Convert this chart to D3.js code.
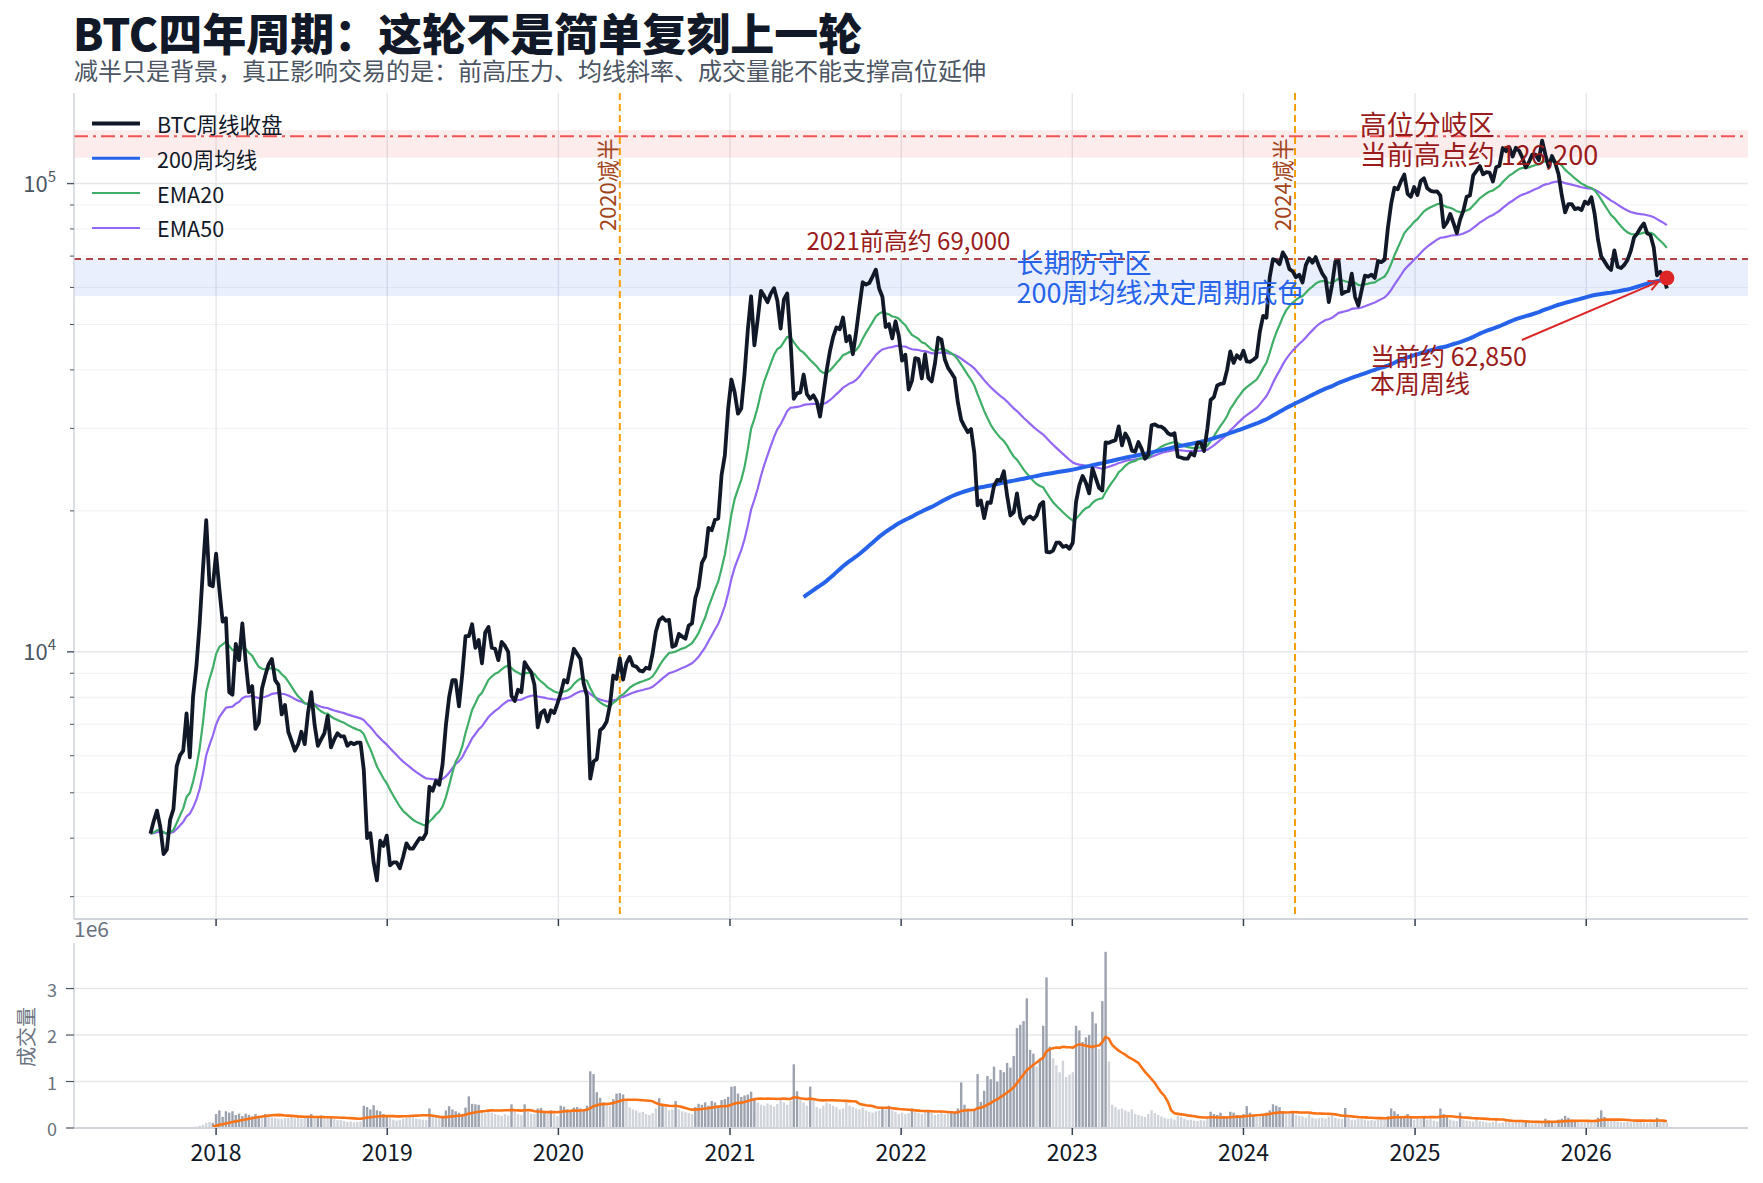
<!DOCTYPE html>
<html>
<head>
<meta charset="utf-8">
<script src="https://cdn.jsdelivr.net/npm/d3@7"></script>
<style>
body { margin: 0; background: #fff; }
text { font-family: "Noto Sans CJK SC", "Noto Sans", sans-serif; }
</style>
</head>
<body>
<svg width="1763" height="1183"></svg>
<script>
// weekly closes (USDT), one array per year, week labels start Monday 2017-08-14
let close2017 = [4090, 4350, 4580, 4230, 3700, 3780, 4380, 4610, 5700, 6010, 6150, 7390, 5950, 8040, 9300, 11500, 15000, 19100, 13900, 13800];
let close2018 = [16200, 13600, 11600, 11800, 8200, 8100, 10400, 9600, 11500, 9550, 8200, 8450, 6850, 7050, 8350, 8900, 9400, 9650, 8700, 8500, 7350, 7700, 6750, 6450, 6150, 6350, 6750, 6350, 7400, 8200, 7000, 6300, 6500, 6700, 7300, 6250, 6500, 6700, 6600, 6600, 6300, 6400, 6350, 6400, 6400, 5600, 4000, 4100, 3550, 3250, 3950, 3850, 4050];
let close2019 = [3500, 3550, 3550, 3450, 3650, 3900, 3800, 3800, 3900, 4000, 3980, 4100, 5150, 5050, 5300, 5200, 5750, 6950, 8000, 8700, 8700, 7650, 8950, 10800, 10800, 11450, 10200, 10600, 9450, 11000, 11300, 10200, 10150, 9600, 10500, 10300, 10000, 8050, 7850, 8300, 8200, 9500, 9250, 9050, 8500, 6900, 7400, 7500, 7100, 7500, 7400, 7750];
let close2020 = [8150, 8700, 8600, 9350, 10150, 9900, 9650, 8550, 8050, 5360, 5830, 5900, 6800, 6900, 7100, 7700, 8900, 8750, 9680, 8720, 9450, 9750, 9350, 9300, 9120, 9080, 9250, 9200, 9930, 11050, 11680, 11850, 11650, 11700, 10250, 10330, 10920, 10780, 10670, 11380, 11500, 13030, 13740, 15480, 15970, 18400, 18180, 19150, 19270, 23850, 26280, 33000];
let close2021 = [38150, 35800, 32250, 33100, 39250, 48700, 57450, 45150, 51200, 59000, 57500, 55800, 58200, 59800, 56200, 49000, 56600, 58250, 46400, 34700, 35650, 35800, 39100, 35500, 34700, 35300, 34250, 31800, 35400, 39850, 43800, 47050, 49300, 48850, 51750, 46050, 47250, 43200, 48200, 54650, 61550, 60850, 61300, 63300, 65500, 59700, 57300, 49400, 50100, 46700, 50800, 47300];
let close2022 = [41850, 43100, 36300, 37900, 42400, 42200, 38350, 43200, 38400, 37800, 41250, 46850, 46400, 42150, 40400, 39450, 38450, 34050, 31300, 30300, 29450, 29900, 26600, 20550, 21050, 19300, 20850, 20800, 22600, 23300, 23200, 24300, 21550, 19550, 19850, 21800, 19400, 18800, 19300, 19450, 19200, 19550, 20600, 20900, 16350, 16300, 16450, 17100, 17100, 16750, 16850, 16600];
let close2023 = [17100, 20900, 22700, 23750, 22950, 21800, 24650, 23500, 22400, 22100, 28000, 27950, 28150, 28300, 30300, 27600, 29250, 28450, 26900, 26750, 28050, 27100, 25850, 26350, 30450, 30600, 30300, 30250, 29900, 29300, 29050, 29300, 26100, 26000, 25850, 25850, 26550, 26250, 27950, 27950, 26850, 29950, 34500, 35000, 37050, 37350, 37450, 39950, 43800, 41400, 43000, 42250];
let close2024 = [43950, 41700, 41600, 42050, 42600, 48300, 52150, 51700, 63100, 68950, 68400, 67250, 71300, 69350, 65650, 64950, 63100, 63900, 61500, 66950, 69300, 67750, 69650, 66650, 64250, 62750, 55850, 60800, 68150, 68250, 58100, 58700, 58950, 64200, 57300, 54850, 59150, 63600, 63300, 63900, 62850, 68350, 67950, 68750, 80350, 90550, 98050, 97200, 101200, 104550, 95100, 93700, 98300];
let close2025 = [94550, 101300, 102600, 97700, 96500, 96150, 96250, 94250, 80750, 82600, 86100, 82350, 78400, 83750, 87500, 93750, 94300, 104100, 106450, 109000, 104650, 105750, 105550, 101000, 108400, 109200, 119100, 117300, 119450, 114200, 119300, 117500, 113500, 108250, 111150, 115300, 115250, 112200, 123500, 115100, 108600, 114500, 110550, 104700, 94200, 86800, 90400, 90400, 88200, 88600, 87800, 91500];
let close2026 = [90500, 93500, 86000, 76000, 69800, 68200, 66400, 65400, 72000, 66400, 66000, 67000, 68700, 71800, 76700, 78300, 80500, 82200, 78300, 77600, 73000, 63700, 64800, 63200, 59700];

// weekly volume, millions of BTC
let vol2017 = [0.004, 0.006, 0.010, 0.012, 0.018, 0.010, 0.008, 0.010, 0.014, 0.012, 0.010, 0.016, 0.022, 0.020, 0.030, 0.050, 0.070, 0.110, 0.130, 0.110];
let vol2018 = [0.30, 0.38, 0.24, 0.36, 0.33, 0.36, 0.28, 0.31, 0.26, 0.31, 0.28, 0.25, 0.30, 0.26, 0.22, 0.30, 0.25, 0.23, 0.22, 0.20, 0.19, 0.21, 0.22, 0.25, 0.21, 0.24, 0.20, 0.23, 0.26, 0.30, 0.22, 0.24, 0.27, 0.20, 0.21, 0.26, 0.19, 0.17, 0.17, 0.15, 0.13, 0.14, 0.12, 0.13, 0.14, 0.48, 0.45, 0.40, 0.49, 0.38, 0.36, 0.30, 0.26];
let vol2019 = [0.22, 0.18, 0.16, 0.17, 0.20, 0.22, 0.25, 0.23, 0.20, 0.19, 0.18, 0.17, 0.42, 0.26, 0.24, 0.22, 0.25, 0.38, 0.47, 0.40, 0.36, 0.33, 0.30, 0.44, 0.68, 0.52, 0.51, 0.50, 0.34, 0.32, 0.36, 0.33, 0.30, 0.28, 0.26, 0.30, 0.27, 0.51, 0.36, 0.30, 0.28, 0.51, 0.35, 0.31, 0.30, 0.42, 0.43, 0.35, 0.31, 0.38, 0.30, 0.26];
let vol2020 = [0.48, 0.46, 0.40, 0.38, 0.44, 0.45, 0.42, 0.40, 0.48, 1.22, 1.16, 0.77, 0.65, 0.55, 0.50, 0.48, 0.62, 0.74, 0.75, 0.72, 0.58, 0.44, 0.40, 0.38, 0.33, 0.35, 0.30, 0.28, 0.32, 0.42, 0.64, 0.50, 0.45, 0.38, 0.40, 0.58, 0.40, 0.36, 0.34, 0.32, 0.30, 0.45, 0.52, 0.50, 0.55, 0.48, 0.58, 0.55, 0.48, 0.60, 0.62, 0.67];
let vol2021 = [0.89, 0.90, 0.74, 0.67, 0.70, 0.72, 0.78, 0.65, 0.55, 0.50, 0.48, 0.53, 0.50, 0.46, 0.52, 0.60, 0.55, 0.50, 0.58, 1.37, 0.79, 0.62, 0.55, 0.48, 0.89, 0.60, 0.45, 0.42, 0.48, 0.55, 0.52, 0.48, 0.45, 0.40, 0.42, 0.55, 0.48, 0.45, 0.42, 0.40, 0.44, 0.38, 0.35, 0.33, 0.36, 0.38, 0.45, 0.40, 0.48, 0.38, 0.35, 0.30];
let vol2022 = [0.33, 0.30, 0.32, 0.42, 0.34, 0.33, 0.30, 0.36, 0.38, 0.33, 0.28, 0.30, 0.34, 0.30, 0.32, 0.35, 0.35, 0.42, 0.98, 0.50, 0.42, 0.38, 0.40, 1.16, 0.56, 0.80, 1.12, 1.05, 1.32, 1.00, 1.25, 1.20, 1.40, 1.30, 1.55, 2.15, 2.22, 2.30, 2.79, 1.68, 1.60, 1.32, 1.50, 2.20, 3.24, 1.75, 1.50, 1.35, 1.20, 1.45, 1.10, 1.15];
let vol2023 = [1.20, 2.20, 2.10, 1.85, 1.95, 2.00, 2.50, 2.25, 1.70, 2.73, 3.79, 1.43, 0.50, 0.45, 0.40, 0.42, 0.38, 0.35, 0.40, 0.30, 0.28, 0.26, 0.24, 0.30, 0.38, 0.32, 0.28, 0.25, 0.22, 0.20, 0.21, 0.18, 0.26, 0.24, 0.20, 0.17, 0.18, 0.16, 0.15, 0.17, 0.16, 0.22, 0.35, 0.30, 0.28, 0.33, 0.26, 0.25, 0.35, 0.33, 0.28, 0.26];
let vol2024 = [0.30, 0.47, 0.33, 0.28, 0.24, 0.25, 0.30, 0.33, 0.38, 0.51, 0.48, 0.45, 0.35, 0.30, 0.32, 0.36, 0.28, 0.26, 0.25, 0.22, 0.30, 0.22, 0.20, 0.21, 0.22, 0.20, 0.24, 0.28, 0.22, 0.20, 0.19, 0.43, 0.24, 0.17, 0.18, 0.20, 0.21, 0.18, 0.16, 0.17, 0.16, 0.18, 0.20, 0.19, 0.25, 0.42, 0.36, 0.30, 0.26, 0.25, 0.30, 0.24, 0.18];
let vol2025 = [0.22, 0.20, 0.24, 0.18, 0.20, 0.16, 0.14, 0.42, 0.30, 0.26, 0.18, 0.16, 0.15, 0.33, 0.18, 0.16, 0.15, 0.14, 0.18, 0.15, 0.14, 0.12, 0.11, 0.13, 0.16, 0.10, 0.12, 0.16, 0.14, 0.11, 0.14, 0.15, 0.13, 0.16, 0.12, 0.10, 0.11, 0.10, 0.12, 0.20, 0.16, 0.15, 0.13, 0.18, 0.20, 0.26, 0.22, 0.18, 0.16, 0.14, 0.12, 0.11];
let vol2026 = [0.14, 0.13, 0.15, 0.22, 0.38, 0.24, 0.18, 0.15, 0.16, 0.14, 0.13, 0.12, 0.13, 0.12, 0.14, 0.13, 0.15, 0.12, 0.11, 0.12, 0.13, 0.22, 0.16, 0.14, 0.12];

let yearTicks = [2018, 2019, 2020, 2021, 2022, 2023, 2024, 2025, 2026];
let volTicks = [0, 1, 2, 3];
let halvings = [{label: '2020减半', date: '2020-05-11'}, {label: '2024减半', date: '2024-04-20'}];
let prevHigh = 69000;
let cycleHigh = 126200;
let lastPrice = 62850;
let highZone = [113600, 130000];
let defenseZone = [57500, 69000];

let svg = d3.select('svg');
let width = +svg.attr('width');
let height = +svg.attr('height');

// panel edges
let left = 74, right = 1748;
let mainTop = 93, mainBottom = 919;
let volTop = 943, volBottom = 1128;

let start = new Date(2017, 7, 14);
let closes = [].concat(close2017, close2018, close2019, close2020, close2021, close2022, close2023, close2024, close2025, close2026);
let volumes = [].concat(vol2017, vol2018, vol2019, vol2020, vol2021, vol2022, vol2023, vol2024, vol2025, vol2026);

//Moving averages from the closes (ewm adjust=False, plain rolling mean)
let ema = (values, span) => {
    let a = 2 / (span + 1);
    let out = [];
    values.forEach((v, i) => out.push(i === 0 ? v : a * v + (1 - a) * out[i - 1]));
    return out;
};
let rolling = (values, n) => values.map((v, i) => i < n - 1 ? null : d3.mean(values.slice(i - n + 1, i + 1)));

let ema20 = ema(closes, 20);
let ema50 = ema(closes, 50);
let ma200 = rolling(closes, 200);
let volMa = rolling(volumes, 20);

let data = closes.map((c, i) => ({
    date: d3.timeDay.offset(start, 7 * i),
    close: c, vol: volumes[i], ema20: ema20[i], ema50: ema50[i], ma200: ma200[i], volMa: volMa[i]
}));
let last = data[data.length - 1];

//Scales
let x = d3.scaleTime()
    .domain([new Date(2017, 2, 4), new Date(2026, 11, 12)])
    .range([left, right]);
let y = d3.scaleLog()
    .domain([2688, 156100])
    .range([mainBottom, mainTop]);
let yVol = d3.scaleLinear()
    .domain([0, 3.98])
    .range([volBottom, volTop]);
let yearDate = yr => new Date(yr, 0, 1);

//Title
svg.append('text')
    .attr('x', left - 1).attr('y', 51)
    .attr('font-size', 44).attr('font-weight', 900).attr('fill', '#111827')
    .text('BTC四年周期：这轮不是简单复刻上一轮');
svg.append('text')
    .attr('x', left).attr('y', 80)
    .attr('font-size', 24).attr('fill', '#4b5563')
    .text('减半只是背景，真正影响交易的是：前高压力、均线斜率、成交量能不能支撑高位延伸');

let g = svg.append('g');

//Grid main panel
let minorVals = [3000, 4000, 5000, 6000, 7000, 8000, 9000, 20000, 30000, 40000, 50000, 60000, 70000, 80000, 90000];
g.selectAll('.minor').data(minorVals).enter().append('line')
    .attr('x1', left).attr('x2', right)
    .attr('y1', d => y(d)).attr('y2', d => y(d))
    .attr('stroke', '#f0f1f4').attr('stroke-width', 1);
g.selectAll('.major').data([1e4, 1e5]).enter().append('line')
    .attr('x1', left).attr('x2', right)
    .attr('y1', d => y(d)).attr('y2', d => y(d))
    .attr('stroke', '#e5e7eb').attr('stroke-width', 1.6);
g.selectAll('.vgrid').data(yearTicks).enter().append('line')
    .attr('x1', d => x(yearDate(d))).attr('x2', d => x(yearDate(d)))
    .attr('y1', mainTop).attr('y2', mainBottom)
    .attr('stroke', '#e5e7eb').attr('stroke-width', 1.4);

//Zones
g.append('rect')
    .attr('x', left).attr('width', right - left)
    .attr('y', y(highZone[1])).attr('height', y(highZone[0]) - y(highZone[1]))
    .attr('fill', '#ef4444').attr('opacity', 0.1);
g.append('rect')
    .attr('x', left).attr('width', right - left)
    .attr('y', y(defenseZone[1])).attr('height', y(defenseZone[0]) - y(defenseZone[1]))
    .attr('fill', '#2563eb').attr('opacity', 0.1);

g.append('line')
    .attr('x1', left).attr('x2', right)
    .attr('y1', y(cycleHigh)).attr('y2', y(cycleHigh))
    .attr('stroke', '#ef4444').attr('stroke-opacity', 0.9).attr('stroke-width', 2)
    .attr('stroke-dasharray', '14,5,3,5');
g.append('line')
    .attr('x1', left).attr('x2', right)
    .attr('y1', y(prevHigh)).attr('y2', y(prevHigh))
    .attr('stroke', '#a83232').attr('stroke-opacity', 0.9).attr('stroke-width', 2)
    .attr('stroke-dasharray', '7,5');

//Halving markers
halvings.forEach(h => {
    let hx = x(new Date(h.date));
    g.append('line')
        .attr('x1', hx).attr('x2', hx)
        .attr('y1', mainTop).attr('y2', mainBottom)
        .attr('stroke', '#f59e0b').attr('stroke-width', 2)
        .attr('stroke-dasharray', '7,4');
    g.append('text')
        .attr('transform', `translate(${hx - 4},${y(cycleHigh) + 2}) rotate(-90)`)
        .attr('text-anchor', 'end')
        .attr('font-size', 22).attr('fill', '#a2441a')
        .text(h.label);
});

//Series lines
let lineOf = key => d3.line()
    .defined(d => d[key] !== null)
    .x(d => x(d.date))
    .y(d => y(d[key]));

g.append('path').datum(data)
    .attr('d', lineOf('ema50'))
    .attr('fill', 'none').attr('stroke', '#9466f4').attr('stroke-width', 2.2);
g.append('path').datum(data)
    .attr('d', lineOf('ema20'))
    .attr('fill', 'none').attr('stroke', '#3fae66').attr('stroke-width', 2.2);
g.append('path').datum(data)
    .attr('d', lineOf('ma200'))
    .attr('fill', 'none').attr('stroke', '#2563eb').attr('stroke-width', 4);
g.append('path').datum(data)
    .attr('d', lineOf('close'))
    .attr('fill', 'none').attr('stroke', '#111827').attr('stroke-width', 3.8)
    .attr('stroke-linejoin', 'round');

//Current point and arrow
let dotX = x(last.date), dotY = y(lastPrice);
svg.append('defs').append('marker')
    .attr('id', 'arrow')
    .attr('viewBox', '0 0 12 12').attr('refX', 11).attr('refY', 6)
    .attr('markerWidth', 12).attr('markerHeight', 12)
    .attr('markerUnits', 'userSpaceOnUse').attr('orient', 'auto')
    .append('path')
    .attr('d', 'M1,1 L11,6 L1,11')
    .attr('fill', 'none').attr('stroke', '#dc2626').attr('stroke-width', 2);

let ax0 = dotX - 145, ay0 = dotY + 62;
let len = Math.hypot(dotX - ax0, dotY - ay0);
g.append('line')
    .attr('x1', ax0).attr('y1', ay0)
    .attr('x2', dotX - (dotX - ax0) / len * 9).attr('y2', dotY - (dotY - ay0) / len * 9)
    .attr('stroke', '#dc2626').attr('stroke-width', 2)
    .attr('marker-end', 'url(#arrow)');
g.append('circle')
    .attr('cx', dotX).attr('cy', dotY).attr('r', 7.5)
    .attr('fill', '#dc2626');

//Annotations
g.append('text')
    .attr('x', x(new Date(2022, 7, 22))).attr('y', y(prevHigh) - 9)
    .attr('text-anchor', 'end')
    .attr('font-size', 24).attr('fill', '#991b1b')
    .text('2021前高约 69,000');

let defense = g.append('text')
    .attr('font-size', 27).attr('fill', '#2563eb');
defense.append('tspan').attr('x', x(new Date(2022, 8, 4))).attr('y', y(prevHigh) + 14).text('长期防守区');
defense.append('tspan').attr('x', x(new Date(2022, 8, 4))).attr('y', y(prevHigh) + 44).text('200周均线决定周期底色');

let high = g.append('text')
    .attr('font-size', 27).attr('fill', '#991b1b');
high.append('tspan').attr('x', x(new Date(2024, 8, 5))).attr('y', y(cycleHigh) - 1).text('高位分岐区');
high.append('tspan').attr('x', x(new Date(2024, 8, 5))).attr('y', y(cycleHigh) + 29).text('当前高点约 126,200');

let now = g.append('text')
    .attr('font-size', 25).attr('fill', '#991b1b');
now.append('tspan').attr('x', x(new Date(2024, 8, 27))).attr('y', dotY + 88).text('当前约 62,850');
now.append('tspan').attr('x', x(new Date(2024, 8, 27))).attr('y', dotY + 115).text('本周周线');

//Legend
let legendItems = [
    {label: 'BTC周线收盘', color: '#111827', w: 4},
    {label: '200周均线', color: '#2563eb', w: 3},
    {label: 'EMA20', color: '#3fae66', w: 2},
    {label: 'EMA50', color: '#9466f4', w: 2}
];
let legend = g.append('g').attr('transform', 'translate(92,123.5)');
legendItems.forEach((d, i) => {
    legend.append('line')
        .attr('x1', 0).attr('x2', 48)
        .attr('y1', i * 34.8).attr('y2', i * 34.8)
        .attr('stroke', d.color).attr('stroke-width', d.w);
    legend.append('text')
        .attr('x', 65).attr('y', i * 34.8)
        .attr('dominant-baseline', 'central')
        .attr('font-size', 21.5).attr('fill', '#111827')
        .text(d.label);
});

//Main axes
g.append('line')
    .attr('x1', left).attr('x2', left).attr('y1', mainTop).attr('y2', mainBottom)
    .attr('stroke', '#d1d5db').attr('stroke-width', 1.5);
g.append('line')
    .attr('x1', left).attr('x2', right).attr('y1', mainBottom).attr('y2', mainBottom)
    .attr('stroke', '#d1d5db').attr('stroke-width', 2);
g.selectAll('.ytickminor').data(minorVals).enter().append('line')
    .attr('x1', left - 4).attr('x2', left)
    .attr('y1', d => y(d)).attr('y2', d => y(d))
    .attr('stroke', '#4b5563').attr('stroke-width', 1);
[1e4, 1e5].forEach(v => {
    g.append('line')
        .attr('x1', left - 7).attr('x2', left)
        .attr('y1', y(v)).attr('y2', y(v))
        .attr('stroke', '#4b5563').attr('stroke-width', 1.4);
    let t = g.append('text')
        .attr('x', left - 18).attr('y', y(v) + 8)
        .attr('text-anchor', 'end')
        .attr('font-size', 22).attr('fill', '#4b5563');
    t.append('tspan').text('10');
    t.append('tspan').attr('dy', -10).attr('font-size', 15).text(Math.round(Math.log10(v)));
});
g.selectAll('.xtickmain').data(yearTicks).enter().append('line')
    .attr('x1', d => x(yearDate(d))).attr('x2', d => x(yearDate(d)))
    .attr('y1', mainBottom).attr('y2', mainBottom + 7)
    .attr('stroke', '#374151').attr('stroke-width', 1.5);

//Volume panel
let v = svg.append('g');
v.selectAll('.vgrid').data(volTicks.slice(1)).enter().append('line')
    .attr('x1', left).attr('x2', right)
    .attr('y1', d => yVol(d)).attr('y2', d => yVol(d))
    .attr('stroke', '#e5e7eb').attr('stroke-width', 1.6);

let barW = 2.4;
v.selectAll('rect').data(data).enter().append('rect')
    .attr('x', d => x(d.date) - barW / 2)
    .attr('y', d => yVol(d.vol))
    .attr('width', barW)
    .attr('height', d => yVol(0) - yVol(d.vol))
    .attr('fill', d => d.volMa !== null && d.vol > d.volMa ? '#9ca3af' : '#d1d5db');

v.append('path').datum(data)
    .attr('d', d3.line().defined(d => d.volMa !== null).x(d => x(d.date)).y(d => yVol(d.volMa)))
    .attr('fill', 'none').attr('stroke', '#f97316').attr('stroke-width', 2.6);

v.append('line')
    .attr('x1', left).attr('x2', left).attr('y1', volTop).attr('y2', volBottom)
    .attr('stroke', '#d1d5db').attr('stroke-width', 1.5);
v.append('line')
    .attr('x1', left).attr('x2', right).attr('y1', volBottom).attr('y2', volBottom)
    .attr('stroke', '#d1d5db').attr('stroke-width', 2);
v.selectAll('.vtick').data(volTicks).enter().append('line')
    .attr('x1', left - 8).attr('x2', left)
    .attr('y1', d => yVol(d)).attr('y2', d => yVol(d))
    .attr('stroke', '#4b5563').attr('stroke-width', 1.2);
v.selectAll('.vlabel').data(volTicks).enter().append('text')
    .attr('x', left - 17).attr('y', d => yVol(d))
    .attr('text-anchor', 'end').attr('dominant-baseline', 'central')
    .attr('font-size', 18).attr('fill', '#6b7280')
    .text(d => d);
v.append('text')
    .attr('x', left).attr('y', 937)
    .attr('font-size', 21).attr('fill', '#6b7280')
    .text('1e6');
v.append('text')
    .attr('transform', `translate(25,1037) rotate(-90)`)
    .attr('text-anchor', 'middle').attr('dominant-baseline', 'central')
    .attr('font-size', 20).attr('fill', '#6b7280')
    .text('成交量');

v.selectAll('.xtick').data(yearTicks).enter().append('line')
    .attr('x1', d => x(yearDate(d))).attr('x2', d => x(yearDate(d)))
    .attr('y1', volBottom).attr('y2', volBottom + 7)
    .attr('stroke', '#374151').attr('stroke-width', 1.5);
v.selectAll('.xlabel').data(yearTicks).enter().append('text')
    .attr('x', d => x(yearDate(d))).attr('y', 1161)
    .attr('text-anchor', 'middle')
    .attr('font-size', 23).attr('fill', '#111827')
    .text(d => d);
</script>
</body>
</html>
